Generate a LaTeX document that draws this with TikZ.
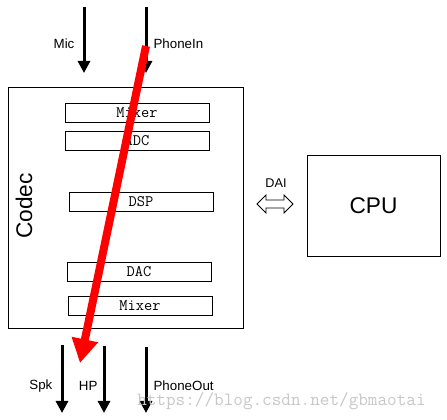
\documentclass[tikz,border=0pt]{standalone}
\usepackage{fontspec}
\setmainfont{Liberation Sans}
\usetikzlibrary{arrows.meta}

\begin{document}
\begin{tikzpicture}[x=0.75pt, y=-0.75pt, >={Triangle[length=9pt,width=9pt]},
	block/.style={draw, line width=0.6pt, minimum width=108pt, minimum height=14.25pt, inner sep=0pt, font=\fontsize{12}{12}\ttfamily},
	sig/.style={->, line width=2.25pt},
	lbl/.style={font=\fontsize{10}{12}\selectfont, inner sep=1pt}]

	\useasboundingbox (0,0) rectangle (447,420);

	% codec and cpu
	\node [draw, line width=0.6pt, minimum width=176.25pt, minimum height=180.75pt] (codec) at (125.5,207.5) {};
	\node [rotate=90, font=\fontsize{17}{17}\selectfont] (codec-label) at (24,206) {Codec};
	\node [draw, line width=0.6pt, minimum width=99.75pt, minimum height=75.75pt, font=\fontsize{17}{17}\selectfont] (cpu) at (373.5,205.5) {CPU};

	% blocks in codec
	\foreach \m/\l/\x/\y in {mixer-in/Mixer/137/112.5, adc/ADC/137/140.5, dsp/DSP/141/201.5, dac/DAC/139/271.5, mixer-out/Mixer/140/305.5}
		\node [block] (\m) at (\x,\y) {\l};

	% dai
	\coordinate (dai) at (275,204);
	\draw [line width=0.6pt] ([xshift=-13.5pt]dai) -- ++(9,-9) -- ++(0,5) -- ++(18,0) -- ++(0,-5)
		-- ++(9,9) -- ++(-9,9) -- ++(0,-5) -- ++(-18,0) -- ++(0,5) -- cycle;
	\node [lbl, font=\fontsize{9.5}{11}\selectfont] (dai-label) at (276,183) {DAI};

	% inputs
	\foreach \m/\x in {mic/84, phonein/146} {
		\coordinate (\m-start) at (\x,7);
		\coordinate (\m-end) at (\x,73);
		\draw [sig] (\m-start) -- (\m-end);
	}
	\node [lbl, anchor=east] (mic-label) at (76,44) {Mic};
	\node [lbl, anchor=west] (phonein-label) at (152,44) {PhoneIn};

	% outputs
	\foreach \m/\x/\y in {spk/62/345, hp/104/346, phoneout/146/347} {
		\coordinate (\m-start) at (\x,\y);
		\coordinate (\m-end) at (\x,413);
		\draw [sig] (\m-start) -- (\m-end);
	}
	\node [lbl, anchor=east] (spk-label) at (54,386) {Spk};
	\node [lbl, anchor=east] (hp-label) at (99,386) {HP};
	\node [lbl, anchor=west] (phoneout-label) at (152,386) {PhoneOut};

	% path
	\coordinate (path-start) at (146,46);
	\coordinate (path-end) at (80,363);
	\draw [red, line width=6pt, -{Triangle[length=18pt,width=19pt]}] (path-start) -- (path-end);

	% watermark
	\node [anchor=base west, inner sep=0pt, text=black!22, font=\fontsize{14}{14}\ttfamily] (mark) at (137,406) {https://blog.csdn.net/gbmaotai};

\end{tikzpicture}
\end{document}
